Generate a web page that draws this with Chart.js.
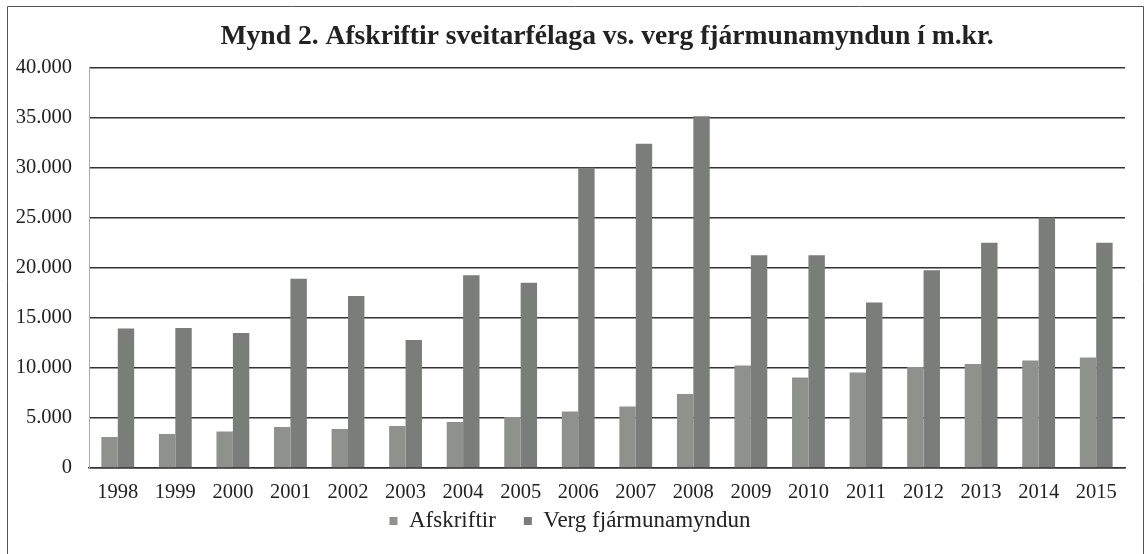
<!DOCTYPE html>
<html>
<head>
<meta charset="utf-8">
<script src="https://cdn.jsdelivr.net/npm/chart.js@4/dist/chart.umd.min.js"></script>
<style>
html,body{margin:0;padding:0;background:#fff;}
#wrap{width:1145px;height:554px;}
</style>
</head>
<body>
<div id="wrap"><canvas id="c" width="1145" height="554"></canvas></div>
<script>
const titleText = 'Mynd 2. Afskriftir sveitarfélaga vs. verg fjármunamyndun í m.kr.';
const years = ['1998','1999','2000','2001','2002','2003','2004','2005','2006','2007','2008','2009','2010','2011','2012','2013','2014','2015'];
const afskriftir = [3100,3400,3650,4100,3900,4200,4600,5100,5650,6150,7400,10250,9050,9550,10100,10400,10750,11050];
const vergFjarmunamyndun = [13950,14000,13500,18900,17200,12800,19250,18500,30000,32400,35150,21250,21250,16550,19750,22500,25000,22500];
const seriesNames = ['Afskriftir','Verg fjármunamyndun'];
const yMax = 40000, yStep = 5000;

const fmt = v => String(v).replace(/\B(?=(\d{3})+(?!\d))/g, '.');
const serif = '"Liberation Serif", "Times New Roman", serif';

const frame = {
  id: 'frame',
  afterDraw(chart) {
    const ctx = chart.ctx;
    ctx.save();
    ctx.strokeStyle = '#555';
    ctx.lineWidth = 1;
    ctx.beginPath();
    ctx.moveTo(7.5, 560);
    ctx.lineTo(7.5, 6.5);
    ctx.lineTo(1143.5, 6.5);
    ctx.lineTo(1143.5, 560);
    ctx.stroke();
    ctx.restore();
  }
};

new Chart(document.getElementById('c'), {
  type: 'bar',
  data: {
    labels: years,
    datasets: [
      { label: seriesNames[0], data: afskriftir, backgroundColor: '#8f918d', borderWidth: 0 },
      { label: seriesNames[1], data: vergFjarmunamyndun, backgroundColor: '#7a7d79', borderWidth: 0 }
    ]
  },
  options: {
    responsive: false,
    animation: false,
    layout: { padding: { left: 15, right: 20, top: 0, bottom: 11.5 } },
    datasets: { bar: { categoryPercentage: 0.57, barPercentage: 1.0 } },
    plugins: {
      title: {
        display: true,
        fullSize: false,
        text: titleText,
        color: '#222',
        font: { family: serif, size: 27.6, weight: 'bold' },
        padding: { top: 20.2, bottom: 14.4 }
      },
      legend: {
        position: 'bottom',
        fullSize: true,
        labels: {
          color: '#222',
          boxWidth: 8,
          boxHeight: 8,
          padding: 28,
          font: { family: serif, size: 23 }
        }
      },
      tooltip: { enabled: false }
    },
    scales: {
      x: {
        grid: { display: false, drawTicks: false },
        border: { display: true, color: '#333', width: 1.5 },
        ticks: {
          color: '#222',
          mirror: true,
          padding: -36.8,
          autoSkip: false,
          maxRotation: 0,
          minRotation: 0,
          font: { family: serif, size: 20.5 }
        },
        afterFit(scale) {
          scale.height = 13.5;
          scale.paddingLeft = 0;
          scale.paddingRight = 0;
        }
      },
      y: {
        min: 0,
        max: yMax,
        grid: { color: '#333', lineWidth: 1.4, drawTicks: false },
        border: { display: true, color: '#aaa', width: 1 },
        ticks: {
          stepSize: yStep,
          color: '#222',
          padding: 17,
          font: { family: serif, size: 20.5 },
          callback: v => fmt(v)
        },
        afterFit(scale) { scale.width = 74; }
      }
    }
  },
  plugins: [frame]
});
</script>
</body>
</html>
